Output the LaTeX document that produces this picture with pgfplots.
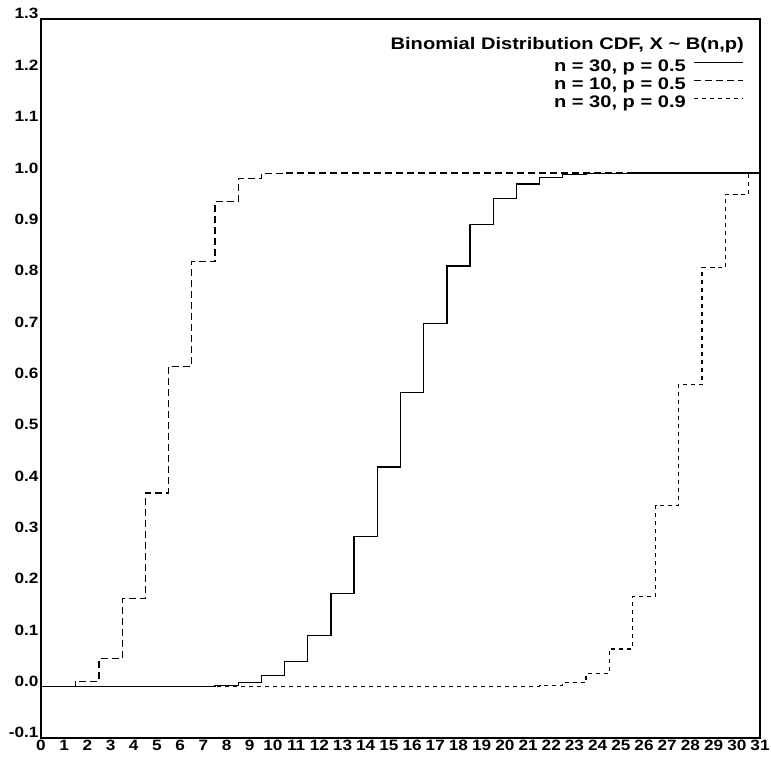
\documentclass[border=0pt]{standalone}
\usepackage{pgfplots}
\pgfplotsset{compat=1.18}
\usepackage{fontspec}
\setmainfont{Liberation Sans}[FakeStretch=1.15]
\newfontfamily\legfont{Liberation Sans}[FakeStretch=1.2]

\begin{document}
\begin{tikzpicture}
\path[use as bounding box] (-41bp,-26bp) rectangle (730bp,738bp);
\begin{axis}[
    scale only axis,
    width=719bp, height=719bp,
    xmin=0, xmax=31, ymin=-0.1, ymax=1.3,
    xtick={0,1,...,31},
    ytick={-0.1,0.0,0.1,0.2,0.3,0.4,0.5,0.6,0.7,0.8,0.9,1.0,1.1,1.2,1.3},
    major tick length=0pt,
    tick style={draw=none},
    axis line style={line width=2.5bp},
    /pgf/number format/assume math mode=true,
    ticklabel style={font=\fontsize{15}{18}\selectfont\bfseries},
    yticklabel style={/pgf/number format/.cd, fixed, fixed zerofill, precision=1, /tikz/.cd, anchor=base east, xshift=1bp},
    xticklabel style={yshift=1bp},
    legend plot pos=right,
    legend image code/.code={\draw[#1, line width=1bp] (0bp,4bp) -- (49bp,4bp);},
    legend style={at={(1,1)}, anchor=north east, xshift=-16bp, yshift=-40bp,
        draw=none, fill=none, inner sep=0pt, row sep=2.5bp, column sep=8bp,
        nodes={inner sep=0pt, text height=12bp, text depth=3.5bp},
        legend cell align=right,
        font=\legfont\fontsize{16.8}{19}\selectfont\bfseries},
]
% n = 30, p = 0.5 (value at k is P(X < k))
\addplot[const plot mark mid, line width=1.25bp] coordinates {
    (0,0) (1,0) (2,0) (3,0) (4,0) (5,0.00003) (6,0.00016) (7,0.00072)
    (8,0.00261) (9,0.00806) (10,0.02139) (11,0.04937) (12,0.10024)
    (13,0.18080) (14,0.29233) (15,0.42777) (16,0.57223) (17,0.70767)
    (18,0.81920) (19,0.89976) (20,0.95063) (21,0.97861) (22,0.99194)
    (23,0.99739) (24,0.99928) (25,0.99984) (26,0.99997) (27,1) (28,1)
    (29,1) (30,1) (31,1)};
\addlegendentry{n = 30, p = 0.5}
% n = 10, p = 0.5
\addplot[const plot mark mid, line width=1.25bp, dash pattern=on 7bp off 4bp] coordinates {
    (0,0) (1,0.00098) (2,0.01074) (3,0.05469) (4,0.17188) (5,0.37695)
    (6,0.62305) (7,0.82813) (8,0.94531) (9,0.98926) (10,0.99902)
    (11,1) (31,1)};
\addlegendentry{n = 10, p = 0.5}
% n = 30, p = 0.9
\addplot[const plot mark mid, line width=1.25bp, dash pattern=on 4bp off 4bp] coordinates {
    (0,0) (19,0) (20,0.0001) (21,0.00046) (22,0.00203) (23,0.00779)
    (24,0.02583) (25,0.07319) (26,0.17549) (27,0.35256) (28,0.58865)
    (29,0.81631) (30,0.95761) (31,1)};
\addlegendentry{n = 30, p = 0.9}

\node[anchor=base east, inner sep=0pt, xshift=-16bp, yshift=-31bp,
      font=\legfont\fontsize{16.8}{19}\selectfont\bfseries]
    at (rel axis cs:1,1) {Binomial Distribution CDF, X \textasciitilde{} B(n,p)};
\end{axis}
\end{tikzpicture}
\end{document}
